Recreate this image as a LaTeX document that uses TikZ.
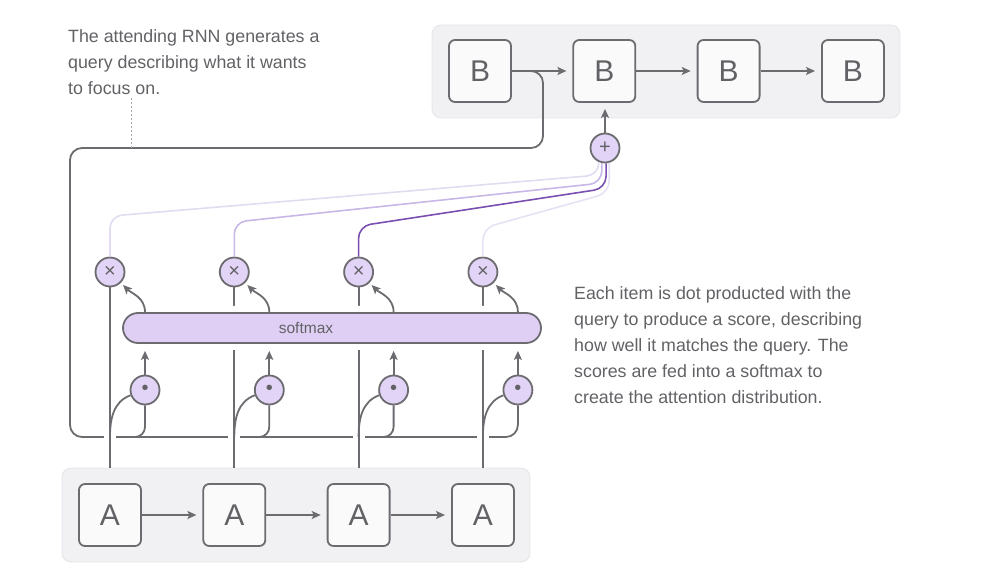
\documentclass[tikz,border=0pt]{standalone}
\usepackage{fontspec}
\setmainfont{Liberation Sans}
\usetikzlibrary{positioning, arrows.meta, calc}
\definecolor{linegray}{RGB}{108,108,112}
\definecolor{textgray}{RGB}{98,98,102}
\definecolor{boxfill}{RGB}{250,250,250}
\definecolor{panelfill}{RGB}{241,241,244}
\definecolor{panelline}{RGB}{229,229,234}
\definecolor{lavender}{RGB}{226,212,246}
\definecolor{softfill}{RGB}{224,207,245}
\definecolor{wlight}{RGB}{226,219,241}
\definecolor{wmid}{RGB}{199,184,231}
\definecolor{wdark}{RGB}{121,80,178}
\definecolor{wpale}{RGB}{231,225,243}
\definecolor{tickgray}{RGB}{170,170,174}

\begin{document}
\begin{tikzpicture}
[
    x=1pt, y=1pt, node distance=124.3pt, on grid,
    panel_node/.style={draw=panelline, fill=panelfill, line width=0.8pt, rounded corners=9pt, inner sep=0pt},
    box_node/.style={draw=linegray, fill=boxfill, line width=1.8pt, rounded corners=6pt, minimum size=62pt, inner sep=0pt, text=textgray, font=\fontsize{30}{30}\selectfont},
    op_node/.style={circle, draw=linegray, fill=lavender, line width=1.8pt, minimum size=29pt, inner sep=0pt, text=textgray, font=\fontsize{20}{20}\selectfont},
    soft_node/.style={draw=linegray, fill=softfill, line width=1.8pt, rounded corners=15pt, minimum width=418pt, minimum height=30pt, inner sep=0pt, preaction={draw=white, line width=14pt}},
    gray_line/.style={draw=linegray, line width=1.8pt},
    gap_line/.style={draw=white, line width=4pt},
    gray_arrow/.style={draw=linegray, line width=1.8pt, -{Stealth[length=9pt, width=8pt, inset=2pt]}, shorten >=6pt},
    weight_line/.style={line width=1.6pt, rounded corners=12pt},
    note_text/.style={text=textgray, align=left, anchor=north west, inner sep=0pt, font=\fontsize{17.8}{26}\selectfont},
]
    \useasboundingbox (0,0) rectangle (981,586);
    \node[panel_node, minimum width=468pt, minimum height=93pt] (top_panel) at (666,514.5) {};
    \node[panel_node, minimum width=468pt, minimum height=94pt] (bottom_panel) at (296,71) {};
    \node[box_node] (b1) at (480,515) {B};
    \node[box_node] (b2) [right = of b1] {B};
    \node[box_node] (b3) [right = of b2] {B};
    \node[box_node] (b4) [right = of b3] {B};
    \node[box_node] (a1) at (110,71) {A};
    \node[box_node] (a2) [right = of a1] {A};
    \node[box_node] (a3) [right = of a2] {A};
    \node[box_node] (a4) [right = of a3] {A};
    \node[op_node] (mul1) at (110,314) {×};
    \node[op_node] (mul2) [right = of mul1] {×};
    \node[op_node] (mul3) [right = of mul2] {×};
    \node[op_node] (mul4) [right = of mul3] {×};
    \node[op_node] (dot1) at (145,196) {•};
    \node[op_node] (dot2) [right = of dot1] {•};
    \node[op_node] (dot3) [right = of dot2] {•};
    \node[op_node] (dot4) [right = of dot3] {•};
    \node[op_node] (sum) at (605,438) {+};
    \coordinate (query_turn) at (543,438);
    \coordinate (query) at (70,149);
    \coordinate (note_tick) at (131,438);
    \draw[gray_line, rounded corners=12pt] (b1.east) -| (query_turn) -| (query) -| (dot4.south);
    \draw[gray_line, rounded corners=10pt] (mul1 |- query) -| (dot1.south);
    \draw[gray_line, rounded corners=10pt] (mul2 |- query) -| (dot2.south);
    \draw[gray_line, rounded corners=10pt] (mul3 |- query) -| (dot3.south);
    \draw[gap_line] (mul1 |- query) ++(-6,0) -- ++(12,0);
    \draw[gap_line] (mul2 |- query) ++(-6,0) -- ++(12,0);
    \draw[gap_line] (mul3 |- query) ++(-6,0) -- ++(12,0);
    \draw[gap_line] (mul4 |- query) ++(-6,0) -- ++(12,0);
    \draw[gray_line] (a1 |- bottom_panel.north) -- (mul1.south);
    \draw[gray_line] (a2 |- bottom_panel.north) -- (mul2.south);
    \draw[gray_line] (a3 |- bottom_panel.north) -- (mul3.south);
    \draw[gray_line] (a4 |- bottom_panel.north) -- (mul4.south);
    \draw[gray_line] (a1 |- query) to[out=90, in=200] (dot1.200);
    \draw[gray_line] (a2 |- query) to[out=90, in=200] (dot2.200);
    \draw[gray_line] (a3 |- query) to[out=90, in=200] (dot3.200);
    \draw[gray_line] (a4 |- query) to[out=90, in=200] (dot4.200);
    \node[soft_node, label={[text=textgray, font=\fontsize{15.5}{15.5}\selectfont, xshift=-26pt]center:softmax}] (softmax) at (332,258) {};
    \draw[gray_arrow, shorten >=7pt] (dot1.north) -- (dot1 |- softmax.south);
    \draw[gray_arrow, shorten >=7pt] (dot2.north) -- (dot2 |- softmax.south);
    \draw[gray_arrow, shorten >=7pt] (dot3.north) -- (dot3 |- softmax.south);
    \draw[gray_arrow, shorten >=7pt] (dot4.north) -- (dot4 |- softmax.south);
    \draw[gray_arrow, shorten >=3pt] (dot1 |- softmax.north) to[out=90, in=-45] (mul1.-45);
    \draw[gray_arrow, shorten >=3pt] (dot2 |- softmax.north) to[out=90, in=-45] (mul2.-45);
    \draw[gray_arrow, shorten >=3pt] (dot3 |- softmax.north) to[out=90, in=-45] (mul3.-45);
    \draw[gray_arrow, shorten >=3pt] (dot4 |- softmax.north) to[out=90, in=-45] (mul4.-45);
    \draw[weight_line, draw=wlight] (mul1.north) -- ++(0,40.5) -- ($(sum.246)+(0,-13)$) -- (sum.246);
    \draw[weight_line, draw=wmid] (mul2.north) -- ++(0,34.5) -- ($(sum.258)+(0,-20)$) -- (sum.258);
    \draw[weight_line, draw=wpale] (mul4.north) -- ++(0,28.5) -- ($(sum.286)+(0,-30)$) -- (sum.286);
    \draw[weight_line, draw=wdark] (mul3.north) -- ++(0,30.5) -- ($(sum.274)+(0,-25)$) -- (sum.274);
    \draw[gray_arrow] (sum.north) -- (sum |- b2.south);
    \draw[gray_arrow] (b1) -- (b2);
    \draw[gray_arrow] (b2) -- (b3);
    \draw[gray_arrow] (b3) -- (b4);
    \draw[gray_arrow] (a1) -- (a2);
    \draw[gray_arrow] (a2) -- (a3);
    \draw[gray_arrow] (a3) -- (a4);
    \node[note_text] (note_query) at (68,557) {The attending RNN generates a\\query describing what it wants\\to focus on.};
    \node[note_text] (note_score) at (574,300) {Each item is dot producted with the\\query to produce a score, describing\\how well it matches the query. The\\scores are fed into a softmax to\\create the attention distribution.};
    \draw[tickgray, line width=1pt, dash pattern=on 2pt off 2pt] (note_tick |- 0,488) -- (note_tick);
\end{tikzpicture}
\end{document}
